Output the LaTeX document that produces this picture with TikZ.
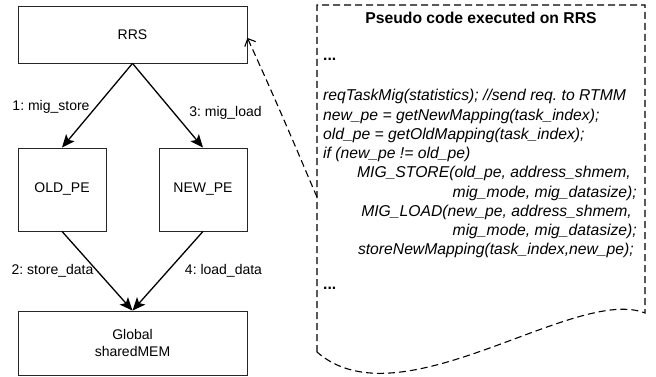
\documentclass[tikz,border=0pt]{standalone}
\usepackage{fontspec}
\setmainfont{Liberation Sans}
\usetikzlibrary{arrows.meta,calc}
\frenchspacing
\begin{document}
\begin{tikzpicture}[x=1pt,y=-1pt,
  box/.style={draw=black!85,line width=0.8pt,rectangle,inner sep=0pt,align=center,
    font=\fontsize{14}{17.5}\selectfont},
  flow/.style={line width=1.3pt,-{Stealth[length=13pt,width=11pt,inset=3pt]}},
  lbl/.style={font=\fontsize{14}{17}\selectfont,inner sep=0pt},
  code/.style={font=\fontsize{15.7}{19}\selectfont\itshape,inner sep=0pt,
    text height=11.5pt,text depth=3.5pt},
  codehead/.style={font=\fontsize{15.7}{19}\selectfont\bfseries,inner sep=0pt,
    text height=11.5pt,text depth=3.5pt},
  docline/.style={draw,dash pattern=on 7pt off 4pt,line width=1.1pt},
  link/.style={dash pattern=on 7pt off 4pt,line width=1.1pt,
    -{Straight Barb[length=6pt,width=12pt]}}
]
\useasboundingbox (0,0) rectangle (656,377);

% processing elements and memory
\node[box,minimum width=229pt,minimum height=57pt] (rrs) at (132.5,34.5) {RRS};
\node[box,minimum width=88pt,minimum height=83pt] (old) at (62,189.5) {OLD\_PE};
\node[box,minimum width=88pt,minimum height=83pt] (new) at (203,189.5) {NEW\_PE};
\node[box,minimum width=229pt,minimum height=64pt] (mem) at (132.5,343) {Global\\sharedMEM};

% migration steps
\draw[flow] (rrs.south) -- (old.north);
\draw[flow] (rrs.south) -- (new.north);
\draw[flow] (old.south) -- (mem.north);
\draw[flow] (new.south) -- (mem.north);

\node[lbl] (l1) at (51,107) {1: mig\_store};
\node[lbl] (l3) at (225.5,113) {3: mig\_load};
\node[lbl] (l2) at (52.5,271) {2: store\_data};
\node[lbl] (l4) at (223.5,271) {4: load\_data};

% pseudo code sheet
\draw[docline] (317,352) -- (317,5) -- (645,5) -- (645,313)
  .. controls (575,285) and (400,425) .. (317,352);

\node[codehead] (title) at (481,20) {Pseudo code executed on RRS};
\node[codehead,anchor=west] (dotsA) at (323,57) {...};
\node[code,anchor=west] (c1) at (323,97) {reqTaskMig(statistics); //send req. to RTMM};
\node[code,anchor=west] (c2) at (323,116.2) {new\_pe = getNewMapping(task\_index);};
\node[code,anchor=west] (c3) at (323,135.4) {old\_pe = getOldMapping(task\_index);};
\node[code,anchor=west] (c4) at (323,154.6) {if (new\_pe != old\_pe)};
\node[code,anchor=east] (c5) at (631,173.8) {MIG\_STORE(old\_pe, address\_shmem,};
\node[code,anchor=east] (c6) at (637,193) {mig\_mode, mig\_datasize);};
\node[code,anchor=east] (c7) at (632,212.2) {MIG\_LOAD(new\_pe, address\_shmem,};
\node[code,anchor=east] (c8) at (637,231.4) {mig\_mode, mig\_datasize);};
\node[code,anchor=east] (c9) at (634,250.6) {storeNewMapping(task\_index,new\_pe);};
\node[codehead,anchor=west] (dotsB) at (323,285) {...};

% link from the sheet back to RRS
\coordinate (docin) at (317,197);
\coordinate (rrsin) at ($(rrs.north east)!0.56!(rrs.south east)$);
\draw[link] (docin) .. controls (311,184) and (285,120) .. (rrsin);
\end{tikzpicture}
\end{document}
